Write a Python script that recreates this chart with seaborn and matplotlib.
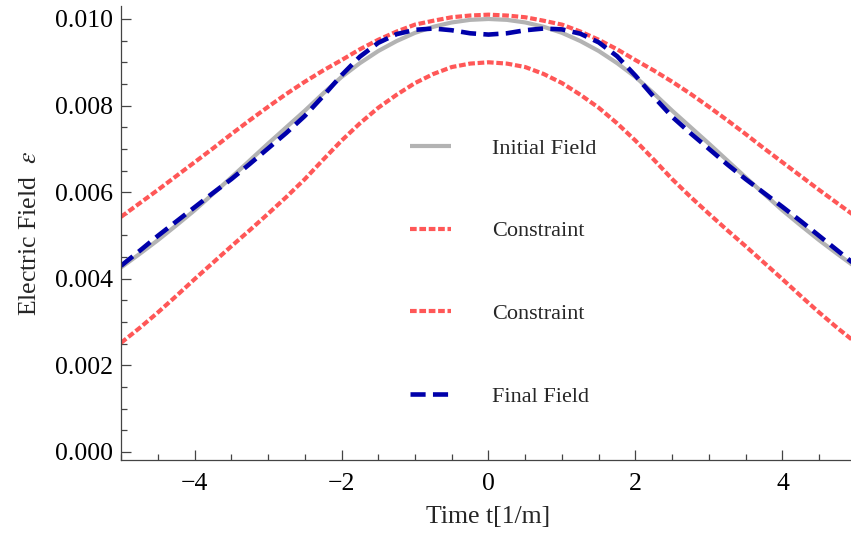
import numpy as np
import matplotlib
matplotlib.use("Agg")
import matplotlib.pyplot as plt
import seaborn as sns
from matplotlib.ticker import MultipleLocator, FormatStrFormatter

# time grid, t in [1/m]
t = [-5.0, -4.75, -4.5, -4.25, -4.0, -3.75, -3.5, -3.25, -3.0, -2.75, -2.5,
     -2.25, -2.0, -1.75, -1.5, -1.25, -1.0, -0.75, -0.5, -0.25, 0.0,
     0.25, 0.5, 0.75, 1.0, 1.25, 1.5, 1.75, 2.0, 2.25, 2.5,
     2.75, 3.0, 3.25, 3.5, 3.75, 4.0, 4.25, 4.5, 4.75, 5.0]

initial_field = [0.00426, 0.00457, 0.00489, 0.00523, 0.00558, 0.00596, 0.00634, 0.00673, 0.00712, 0.00750,
                 0.00788, 0.00828, 0.00866, 0.00898, 0.00926, 0.00949, 0.00968, 0.00982, 0.00992, 0.00998,
                 0.01000,
                 0.00998, 0.00992, 0.00982, 0.00968, 0.00949, 0.00926, 0.00898, 0.00866, 0.00828, 0.00788,
                 0.00750, 0.00712, 0.00673, 0.00634, 0.00596, 0.00558, 0.00523, 0.00489, 0.00457, 0.00426]

upper_constraint = [0.00543, 0.00574, 0.00605, 0.00637, 0.00669, 0.00701, 0.00734, 0.00766, 0.00797, 0.00827,
                    0.00855, 0.00881, 0.00905, 0.00930, 0.00952, 0.00971, 0.00987, 0.00996, 0.01004, 0.01008,
                    0.01010,
                    0.01008, 0.01004, 0.00996, 0.00987, 0.00971, 0.00952, 0.00930, 0.00905, 0.00881, 0.00855,
                    0.00827, 0.00797, 0.00766, 0.00734, 0.00701, 0.00669, 0.00637, 0.00605, 0.00574, 0.00543]

lower_constraint = [0.00252, 0.00286, 0.00322, 0.00360, 0.00399, 0.00437, 0.00475, 0.00512, 0.00550, 0.00589,
                    0.00630, 0.00675, 0.00719, 0.00759, 0.00795, 0.00825, 0.00852, 0.00873, 0.00889, 0.00897,
                    0.00900,
                    0.00897, 0.00889, 0.00873, 0.00852, 0.00825, 0.00795, 0.00759, 0.00719, 0.00675, 0.00630,
                    0.00589, 0.00550, 0.00512, 0.00475, 0.00437, 0.00399, 0.00360, 0.00322, 0.00286, 0.00252]

final_field = [0.00430, 0.00464, 0.00499, 0.00532, 0.00565, 0.00598, 0.00630, 0.00665, 0.00701, 0.00737,
               0.00776, 0.00822, 0.00870, 0.00913, 0.00945, 0.00965, 0.00975, 0.00978, 0.00974, 0.00967,
               0.00964,
               0.00967, 0.00974, 0.00978, 0.00976, 0.00966, 0.00946, 0.00914, 0.00869, 0.00820, 0.00774,
               0.00736, 0.00700, 0.00664, 0.00630, 0.00598, 0.00566, 0.00533, 0.00499, 0.00465, 0.00431]

sns.set_style("white")
plt.rcParams['font.family'] = ['Liberation Serif', 'DejaVu Serif']
plt.rcParams['mathtext.fontset'] = 'stix'

fig = plt.figure(figsize=(8.51, 5.41), dpi=100)
ax = fig.add_axes([121 / 851, 1 - 460 / 541, 735 / 851, 454 / 541])

sns.lineplot(x=t, y=initial_field, ax=ax, color='#b3b3b3', linewidth=3.0,
             label='Initial Field', solid_capstyle='butt')
sns.lineplot(x=t, y=upper_constraint, ax=ax, color='#ff5757', linewidth=3.0,
             linestyle=(0, (1.6, 0.65)), label='Constraint')
sns.lineplot(x=t, y=lower_constraint, ax=ax, color='#ff5757', linewidth=3.0,
             linestyle=(0, (1.6, 0.65)), label='Constraint')
sns.lineplot(x=t, y=final_field, ax=ax, color='#0000aa', linewidth=3.3,
             linestyle=(0, (3.3, 1.6)), label='Final Field')

ax.set_xlim(-5, 5)
ax.set_ylim(-0.000185, 0.0103)

ax.xaxis.set_major_locator(MultipleLocator(2))
ax.xaxis.set_minor_locator(MultipleLocator(0.5))
ax.yaxis.set_major_locator(MultipleLocator(0.002))
ax.yaxis.set_minor_locator(MultipleLocator(0.0005))
ax.yaxis.set_major_formatter(FormatStrFormatter('%.3f'))

ax.tick_params(which='both', direction='in', color='#444444', width=0.9,
               bottom=True, left=True, top=False, right=False,
               labelsize=18.5, labelcolor='black')
ax.tick_params(which='major', length=7)
ax.tick_params(which='minor', length=4)
ax.tick_params(axis='x', pad=9)
ax.tick_params(axis='y', pad=6)

for side in ['top', 'right']:
    ax.spines[side].set_visible(False)
for side in ['left', 'bottom']:
    ax.spines[side].set_color('#444444')
    ax.spines[side].set_linewidth(0.9)

ax.set_xlabel('Time t[1/m]', fontsize=18.5, labelpad=8)
ax.set_ylabel(r'Electric Field  $\varepsilon$', fontsize=18.5, labelpad=10)

ax.legend(loc='center left', bbox_to_anchor=(410 / 851, 1 - 272.5 / 541),
          bbox_transform=fig.transFigure, frameon=False, fontsize=16,
          handlelength=1.85, handletextpad=1.85, labelspacing=2.8,
          borderpad=0, borderaxespad=0)

fig.savefig('out.png', dpi=100)
